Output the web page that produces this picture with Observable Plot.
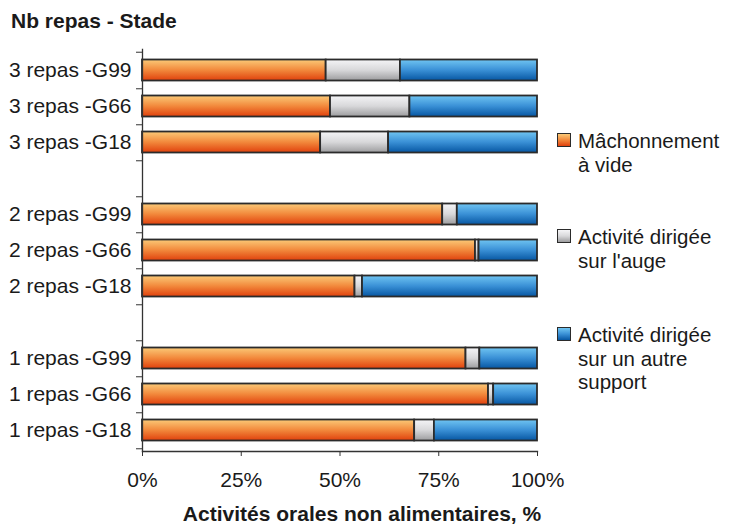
<!DOCTYPE html>
<html><head><meta charset="utf-8">
<script src="https://cdn.jsdelivr.net/npm/d3@7"></script>
<script src="https://cdn.jsdelivr.net/npm/@observablehq/plot@0.6"></script>
<style>
body{margin:0;background:#fff;font-family:"Liberation Sans",Arial,Helvetica,sans-serif;color:#1a1a1a;}
#wrap{position:relative;width:731px;height:529px;overflow:hidden;background:#fff;}
#title{position:absolute;left:11px;top:10px;font-size:21px;line-height:21px;font-weight:bold;white-space:nowrap;}
#chart{position:absolute;left:0;top:40px;}
#xlabel{position:absolute;left:0;width:724px;top:503px;text-align:center;font-size:21px;line-height:21px;font-weight:bold;white-space:nowrap;}
.leg{position:absolute;left:557px;}
.sw{position:absolute;left:0;width:12px;height:12px;border:1.5px solid #2b2b2b;}
.lt{position:absolute;left:21px;font-size:20.5px;line-height:23.5px;white-space:nowrap;}
</style></head><body>
<svg width="0" height="0" style="position:absolute">
 <defs>
  <linearGradient id="gOrange" x1="0" y1="0" x2="0" y2="1">
   <stop offset="0" stop-color="#fbca78"/><stop offset="0.5" stop-color="#f2893c"/><stop offset="1" stop-color="#e0400c"/>
  </linearGradient>
  <linearGradient id="gGrey" x1="0" y1="0" x2="0" y2="1">
   <stop offset="0" stop-color="#f5f5f7"/><stop offset="0.5" stop-color="#d8d8da"/><stop offset="1" stop-color="#9c9c9e"/>
  </linearGradient>
  <linearGradient id="gBlue" x1="0" y1="0" x2="0" y2="1">
   <stop offset="0" stop-color="#70c5f2"/><stop offset="0.5" stop-color="#3a90d6"/><stop offset="1" stop-color="#0656a2"/>
  </linearGradient>
 </defs>
</svg>
<div id="wrap">
 <div id="title">Nb repas - Stade</div>
 <div id="chart"></div>
 <div id="xlabel">Activités orales non alimentaires, %</div>
 <div id="legend"></div>
</div>
<script>
const categories = ["3 repas -G99","3 repas -G66","3 repas -G18","2 repas -G99","2 repas -G66","2 repas -G18","1 repas -G99","1 repas -G66","1 repas -G18"];
const series = ["Mâchonnement à vide","Activité dirigée sur l'auge","Activité dirigée sur un autre support"];
const legendLines = [["Mâchonnement","à vide"],["Activité dirigée","sur l'auge"],["Activité dirigée","sur un autre","support"]];
const machonnement = [46.5, 47.6, 45.1, 76.0, 84.3, 53.8, 81.9, 87.6, 68.9];
const auge = [18.8, 20.1, 17.2, 3.7, 0.9, 1.9, 3.5, 1.3, 5.0];
const autre = [34.7, 32.3, 37.7, 20.3, 14.8, 44.3, 14.6, 11.1, 26.1];
const xTicks = [0, 25, 50, 75, 100];
const fills = ["url(#gOrange)","url(#gGrey)","url(#gBlue)"];
const swatchCss = [
  "linear-gradient(#fbca78,#f2893c,#e0400c)",
  "linear-gradient(#f5f5f7,#d8d8da,#9c9c9e)",
  "linear-gradient(#70c5f2,#3a90d6,#0656a2)"
];

// y domain with empty separator bands between groups
const yDomain = [];
categories.forEach((c, i) => {
  if (i > 0 && i % 3 === 0) yDomain.push("gap" + i);
  yDomain.push(c);
});

const rows = [];
const valueArrays = [machonnement, auge, autre];
categories.forEach((c, i) => {
  series.forEach((s, k) => rows.push({cat: c, serie: s, value: valueArrays[k][i]}));
});

const W = 731, H = 450, mT = 9, mB = 39, mL = 142, mR = 194;
const step = (H - mT - mB) / yDomain.length;

const chart = Plot.plot({
  width: W, height: H,
  marginTop: mT, marginBottom: mB, marginLeft: mL, marginRight: mR,
  style: {fontFamily: '"Liberation Sans", Arial, sans-serif', fontSize: "21px", color: "#1a1a1a", background: "white"},
  x: {domain: [0, 100]},
  y: {type: "band", domain: yDomain, padding: 0},
  color: {domain: series, range: fills},
  marks: [
    Plot.barX(rows, {x: "value", y: "cat", fill: "serie", stroke: "#2b2b2b", strokeWidth: 1.8, insetTop: 7.5, insetBottom: 7.5}),
    Plot.frame({anchor: "left", stroke: "#333", strokeWidth: 1.3}),
    Plot.frame({anchor: "bottom", stroke: "#333", strokeWidth: 1.3}),
    Plot.axisX({ticks: xTicks, tickSize: 5, tickPadding: 16, tickFormat: d => d + "%", label: null, stroke: "#333"}),
    Plot.axisY({tickSize: 0, tickPadding: 11, tickFormat: d => d.startsWith("gap") ? "" : d, label: null}),
    Plot.axisY(yDomain, {tickSize: 6, tickFormat: () => "", dy: step / 2, label: null, stroke: "#333"}),
    Plot.axisY([yDomain[0]], {tickSize: 6, tickFormat: () => "", dy: -step / 2, label: null, stroke: "#333"})
  ]
});
document.getElementById("chart").appendChild(chart);

// legend (HTML)
const legTops = [129, 225, 323];
const leg = document.getElementById("legend");
legendLines.forEach((lines, k) => {
  const item = document.createElement("div");
  item.className = "leg";
  item.style.top = legTops[k] + "px";
  const sw = document.createElement("div");
  sw.className = "sw";
  sw.style.top = "3.5px";
  sw.style.background = swatchCss[k];
  item.appendChild(sw);
  const t = document.createElement("div");
  t.className = "lt";
  t.style.top = "0px";
  t.innerHTML = lines.join("<br>");
  item.appendChild(t);
  leg.appendChild(item);
});
</script>
</body></html>
